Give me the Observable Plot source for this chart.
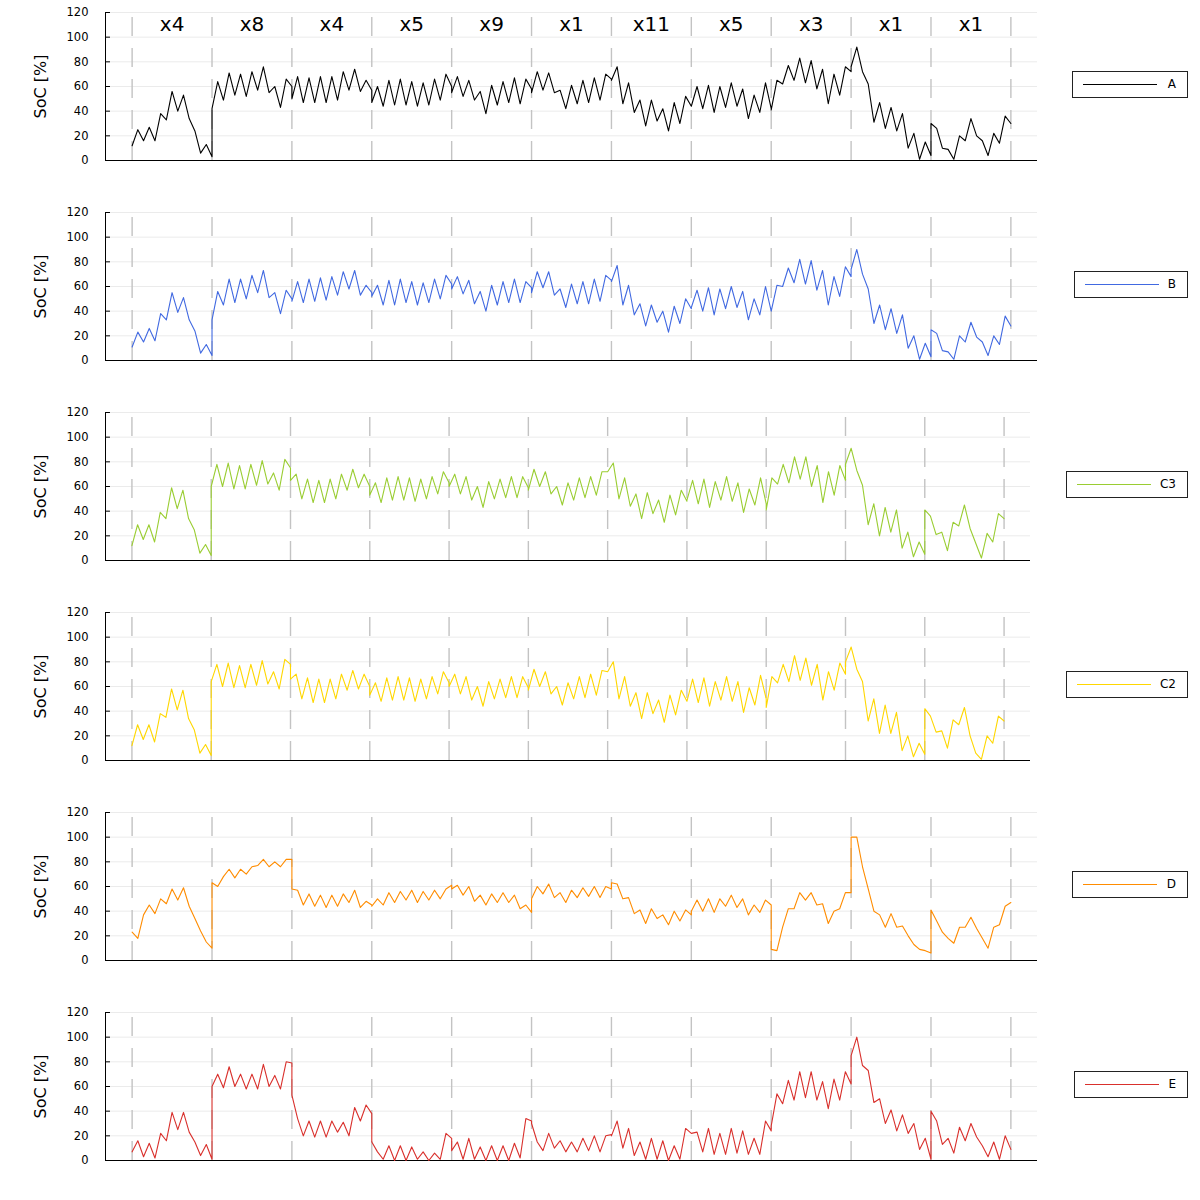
<!DOCTYPE html>
<html><head><meta charset="utf-8">
<script src="https://cdn.jsdelivr.net/npm/d3@7"></script>
<script src="https://cdn.jsdelivr.net/npm/@observablehq/plot@0.6"></script>
<style>
body{margin:0;background:#fff;font-family:"DejaVu Sans",sans-serif;}
#wrap{position:relative;width:1200px;}
.panel{position:relative;width:1200px;height:200px;}
.panel svg{position:absolute;left:0;top:0;}
.legend{position:absolute;top:71px;border:1px solid #222;background:#fff;box-sizing:border-box;height:27px;}
.legend .ln{position:absolute;top:12px;height:0;border-top:1px solid;width:74px;left:10px}
.legend .lb{position:absolute;top:5px;right:11px;font-size:12px;color:#000;}
</style></head><body><div id="wrap"></div>
<script>
// segment repetition labels (top of first panel)
const segLabels = ["x4","x8","x4","x5","x9","x1","x11","x5","x3","x1","x1"];
const yTicks = [0, 20, 40, 60, 80, 100, 120];
const boundaries = [0,1,2,3,4,5,6,7,8,9,10,11];

// SoC [%] per segment, 15 readings per segment (segment start .. segment end)
const socA = [
[12, 25, 16, 27, 16, 38, 33, 56, 40, 53, 34, 24, 6, 13, 3],
[42, 64, 49, 71, 53, 70, 52, 72, 57, 76, 55, 60, 43, 66, 60],
[50, 68, 47, 67, 47, 68, 47, 68, 49, 72, 57, 74, 56, 65, 57],
[47, 60, 44, 65, 45, 66, 45, 64, 44, 63, 45, 66, 49, 70, 60],
[55, 68, 52, 65, 49, 56, 38, 61, 45, 64, 47, 67, 46, 66, 58],
[55, 72, 57, 71, 55, 57, 42, 61, 46, 65, 47, 67, 49, 70, 66],
[65, 76, 46, 63, 39, 49, 28, 49, 32, 42, 24, 47, 30, 52, 44],
[44, 60, 42, 61, 39, 60, 43, 63, 44, 58, 34, 53, 39, 63, 42],
[41, 65, 62, 77, 65, 83, 63, 81, 58, 74, 46, 70, 53, 76, 72],
[76, 92, 72, 62, 31, 47, 26, 43, 24, 38, 10, 22, 1, 15, 4],
[30, 26, 10, 9, 1, 20, 16, 34, 20, 16, 4, 22, 14, 36, 30]
];
const socB = [
[11, 23, 15, 26, 16, 38, 33, 55, 39, 51, 33, 24, 6, 13, 4],
[33, 56, 45, 66, 47, 66, 50, 69, 55, 73, 51, 55, 38, 57, 50],
[48, 64, 47, 66, 48, 67, 49, 68, 53, 72, 58, 73, 53, 61, 55],
[52, 61, 45, 65, 45, 66, 47, 64, 45, 63, 47, 66, 50, 69, 62],
[58, 68, 54, 65, 46, 56, 40, 61, 45, 64, 47, 66, 47, 64, 59],
[55, 72, 59, 72, 53, 58, 43, 62, 46, 64, 46, 66, 48, 69, 65],
[64, 77, 45, 61, 37, 46, 28, 45, 31, 40, 23, 44, 30, 50, 42],
[43, 57, 40, 59, 37, 58, 42, 60, 43, 56, 33, 50, 37, 60, 40],
[40, 61, 60, 75, 63, 82, 62, 81, 57, 73, 45, 68, 52, 76, 68],
[74, 90, 70, 58, 30, 45, 25, 42, 22, 37, 10, 20, 1, 14, 3],
[25, 22, 8, 7, 1, 20, 15, 31, 19, 15, 4, 20, 13, 36, 28]
];
const socC3 = [
[12, 29, 17, 29, 15, 39, 34, 59, 42, 57, 34, 25, 6, 13, 4],
[60, 78, 60, 79, 58, 77, 58, 78, 61, 81, 62, 71, 57, 82, 75],
[65, 70, 50, 66, 47, 65, 47, 66, 50, 70, 57, 74, 59, 70, 60],
[53, 63, 47, 67, 49, 68, 49, 67, 48, 66, 50, 68, 54, 72, 63],
[60, 70, 54, 68, 49, 60, 43, 64, 50, 66, 51, 68, 51, 68, 59],
[57, 74, 60, 72, 54, 60, 45, 63, 49, 67, 51, 68, 53, 72, 72],
[72, 79, 50, 67, 44, 54, 34, 55, 38, 49, 31, 53, 37, 57, 48],
[49, 65, 46, 66, 43, 64, 49, 68, 48, 63, 39, 58, 45, 67, 46],
[41, 67, 62, 78, 63, 84, 66, 84, 60, 77, 47, 72, 53, 77, 65],
[78, 91, 73, 61, 29, 46, 20, 43, 23, 41, 10, 23, 3, 15, 5],
[41, 36, 21, 23, 8, 31, 28, 45, 26, 14, 2, 22, 15, 38, 34]
];
const socC2 = [
[12, 29, 17, 29, 15, 38, 35, 58, 41, 57, 34, 25, 6, 13, 4],
[64, 78, 60, 79, 59, 77, 59, 78, 61, 81, 62, 72, 58, 82, 78],
[66, 70, 50, 67, 47, 66, 47, 66, 50, 70, 57, 73, 58, 70, 60],
[53, 63, 48, 67, 49, 68, 49, 67, 48, 66, 50, 68, 54, 72, 63],
[60, 70, 54, 68, 49, 60, 44, 64, 50, 66, 51, 68, 51, 68, 59],
[57, 74, 60, 72, 54, 60, 45, 63, 50, 68, 51, 70, 53, 73, 72],
[72, 80, 50, 68, 44, 55, 34, 55, 38, 49, 31, 53, 37, 57, 48],
[48, 66, 47, 67, 44, 64, 49, 68, 48, 64, 39, 59, 45, 69, 50],
[43, 68, 63, 78, 64, 85, 65, 83, 61, 78, 49, 72, 57, 79, 70],
[80, 92, 74, 64, 32, 50, 22, 45, 22, 39, 8, 20, 3, 14, 5],
[42, 36, 23, 24, 10, 33, 29, 43, 20, 6, 1, 20, 14, 36, 32]
];
const socD = [
[23, 18, 37, 45, 38, 50, 46, 58, 49, 59, 44, 34, 24, 15, 10],
[63, 60, 68, 74, 67, 74, 70, 76, 77, 82, 76, 80, 76, 82, 82],
[58, 57, 45, 54, 44, 53, 43, 53, 44, 54, 47, 57, 43, 48, 45],
[44, 50, 45, 55, 47, 56, 49, 57, 47, 56, 49, 57, 50, 58, 61],
[58, 61, 53, 60, 48, 53, 45, 54, 47, 55, 47, 53, 42, 45, 39],
[50, 60, 54, 62, 51, 55, 47, 57, 51, 59, 52, 60, 51, 60, 58],
[63, 62, 50, 51, 38, 41, 30, 42, 34, 37, 29, 40, 32, 41, 37],
[40, 49, 40, 50, 39, 50, 44, 53, 43, 50, 37, 45, 39, 49, 45],
[9, 8, 27, 42, 42, 55, 49, 55, 45, 46, 30, 40, 42, 55, 55],
[100, 100, 76, 58, 40, 37, 27, 38, 27, 28, 20, 13, 9, 8, 6],
[41, 32, 23, 18, 14, 27, 27, 35, 26, 18, 10, 27, 29, 44, 47]
];
const socE = [
[7, 16, 3, 14, 2, 22, 16, 39, 25, 39, 23, 15, 4, 13, 1],
[60, 70, 59, 76, 60, 70, 58, 70, 58, 78, 60, 69, 58, 80, 79],
[53, 34, 20, 32, 19, 32, 19, 32, 23, 31, 20, 43, 32, 45, 38],
[15, 7, 1, 12, 0, 12, 0, 11, 1, 7, 0, 6, 1, 22, 18],
[8, 15, 1, 18, 1, 11, 0, 12, 0, 12, 0, 14, 2, 34, 32],
[30, 15, 8, 22, 10, 16, 7, 15, 7, 18, 8, 20, 7, 20, 21],
[20, 32, 10, 26, 4, 15, 1, 18, 1, 16, 0, 12, 1, 26, 22],
[22, 23, 7, 26, 5, 22, 5, 26, 6, 24, 5, 18, 5, 32, 24],
[28, 54, 46, 65, 49, 72, 51, 72, 49, 64, 42, 66, 49, 72, 62],
[85, 100, 77, 73, 47, 50, 30, 41, 24, 37, 22, 30, 9, 18, 1],
[40, 32, 13, 18, 6, 27, 16, 30, 19, 12, 3, 15, 1, 20, 9]
];

const seriesNames = ["A", "B", "C3", "C2", "D", "E"];
const seriesColors = ["#000000", "#4169e1", "#9acd32", "#ffd700", "#ff8c00", "#d9302c"];
const seriesValues = [socA, socB, socC3, socC2, socD, socE];
const plotRight = [1037, 1037, 1030, 1030, 1037, 1037];
const legendLeft = [1072, 1074, 1066, 1066, 1072, 1074];

function toRows(vals) {
  const rows = [];
  vals.forEach((seg, s) => seg.forEach((v, k) => rows.push({t: s + k / (seg.length - 1), soc: v})));
  return rows;
}

const wrap = document.getElementById("wrap");
const x0 = -1/3, x1 = 11 + 1/3;
seriesNames.forEach((name, i) => {
  const rows = toRows(seriesValues[i]);
  const panel = document.createElement("div");
  panel.className = "panel";
  const marks = [
    Plot.gridY(yTicks.filter(d => d > 0), {stroke: "#ebebeb", strokeOpacity: 1}),
    Plot.ruleX(boundaries, {y1: 0, y2: 120, stroke: "#c3c3c3", strokeWidth: 1.4, strokeDasharray: "19,12"}),
    Plot.ruleY(yTicks, {x1: x0, x2: x0 + 5/80, stroke: "#000"}),
    Plot.ruleX([x0], {stroke: "#000"}),
    Plot.ruleY([0], {stroke: "#000"}),
    Plot.line(rows, {x: "t", y: "soc", stroke: seriesColors[i], strokeWidth: 1.1}),
    Plot.text(["SoC [%]"], {frameAnchor: "left", textAnchor: "middle", dx: -65, rotate: -90, fontSize: 16, fill: "#000"})
  ];
  if (i === 0) {
    marks.push(Plot.text(segLabels, {x: (d, j) => j + 0.5, y: 110, fontSize: 20, fill: "#000"}));
  }
  const svg = Plot.plot({
    width: 1200, height: 200,
    marginLeft: 105, marginRight: 1200 - plotRight[i], marginTop: 12, marginBottom: 40,
    x: {domain: [x0, x1], axis: null},
    y: {domain: [0, 120], ticks: yTicks, tickSize: 0, tickPadding: 17, tickFormat: d => String(d), label: null},
    style: {fontFamily: "DejaVu Sans", fontSize: "11.5px", color: "#000", background: "#fff"},
    marks
  });
  panel.appendChild(svg);
  const lg = document.createElement("div");
  lg.className = "legend";
  lg.style.left = legendLeft[i] + "px";
  lg.style.width = (1188 - legendLeft[i]) + "px";
  const ln = document.createElement("div");
  ln.className = "ln";
  ln.style.borderTopColor = seriesColors[i];
  const lb = document.createElement("div");
  lb.className = "lb";
  lb.textContent = name;
  lg.appendChild(ln); lg.appendChild(lb);
  panel.appendChild(lg);
  wrap.appendChild(panel);
});
</script></body></html>
